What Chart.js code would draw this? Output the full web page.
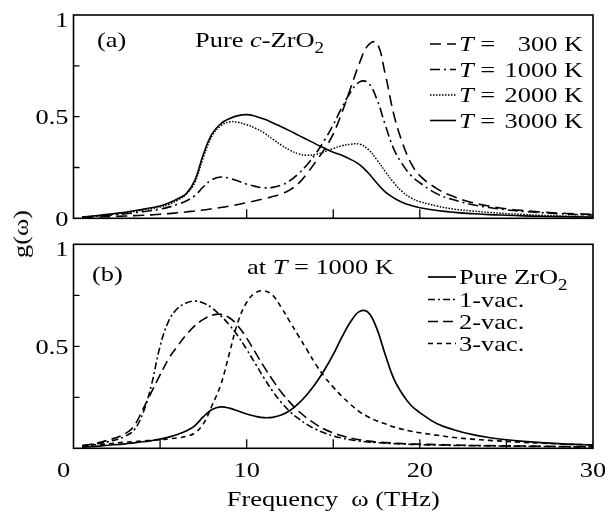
<!DOCTYPE html>
<html>

<head>
    <meta charset="utf-8">
    <title>Phonon density of states, c-ZrO2</title>
    <script src="https://cdn.jsdelivr.net/npm/chart.js"></script>
    <style>
        body { margin: 0; background: #fff; }
        #wrap { position: relative; width: 605px; height: 517px; overflow: hidden; }
        #panelA { position: absolute; left: 0; top: 0; width: 605px; height: 232px; }
        #panelB { position: absolute; left: 0; top: 232px; width: 605px; height: 285px; }
        #yTitle {
            position: absolute; left: 21px; top: 234px;
            font: 22px "Liberation Serif", serif; line-height: 1; white-space: nowrap;
            transform: translate(-50%, -50%) rotate(-90deg) scale(1.2, 1);
        }
    </style>
</head>

<body>
    <div id="wrap">
        <!-- (a) temperature dependence, (b) vacancies at 1000 K -->
        <div id="panelA"><canvas id="chartA"></canvas></div>
        <div id="panelB"><canvas id="chartB"></canvas></div>
        <div id="yTitle">g(ω)</div>
    </div>

    <script>
        // frequency grid (THz)
        const freqTHz = [0.5, 1, 2, 3,
            3.5, 4, 4.5, 5, 5.5, 6, 6.5, 7, 7.5, 8, 8.5, 9, 9.5, 10, 10.5, 11, 11.5,
            12, 12.5, 13, 13.5, 14, 14.5, 15, 15.5, 16, 16.5, 17, 17.5, 18, 18.5, 19, 19.5, 20,
            21, 22, 23, 24, 25, 26, 27, 28, 29, 30];

        const tempsK = [300, 1000, 2000, 3000];

        // pure c-ZrO2, g(w) at each temperature
        const g300 = [0.004, 0.005, 0.008, 0.011,
            0.013, 0.015, 0.017, 0.020, 0.023, 0.027, 0.031, 0.036, 0.041, 0.047, 0.053, 0.060, 0.068, 0.077, 0.086, 0.096, 0.107,
            0.120, 0.140, 0.172, 0.222, 0.280, 0.340, 0.415, 0.520, 0.640, 0.760, 0.850, 0.865, 0.710, 0.510, 0.370, 0.270, 0.210,
            0.145, 0.105, 0.078, 0.060, 0.047, 0.038, 0.031, 0.026, 0.022, 0.019];
        const g1000 = [0.006, 0.008, 0.015, 0.022,
            0.027, 0.032, 0.038, 0.045, 0.055, 0.068, 0.085, 0.110, 0.155, 0.190, 0.203, 0.197, 0.183, 0.168, 0.157, 0.150, 0.152,
            0.163, 0.185, 0.220, 0.265, 0.320, 0.385, 0.460, 0.545, 0.620, 0.670, 0.668, 0.590, 0.460, 0.340, 0.265, 0.210, 0.175,
            0.120, 0.090, 0.068, 0.053, 0.042, 0.034, 0.028, 0.023, 0.019, 0.016];
        const g2000 = [0.007, 0.010, 0.018, 0.027,
            0.033, 0.040, 0.047, 0.055, 0.068, 0.088, 0.118, 0.175, 0.300, 0.405, 0.455, 0.474, 0.472, 0.460, 0.443, 0.420, 0.390,
            0.360, 0.335, 0.317, 0.310, 0.315, 0.328, 0.343, 0.357, 0.364, 0.365, 0.340, 0.290, 0.230, 0.175, 0.130, 0.100, 0.082,
            0.060, 0.045, 0.036, 0.029, 0.023, 0.019, 0.015, 0.012, 0.010, 0.008];
        const g3000 = [0.007, 0.010, 0.020, 0.030,
            0.037, 0.044, 0.052, 0.060, 0.075, 0.095, 0.120, 0.185, 0.315, 0.415, 0.465, 0.490, 0.505, 0.510, 0.502, 0.488, 0.470,
            0.450, 0.430, 0.408, 0.387, 0.365, 0.345, 0.325, 0.310, 0.290, 0.265, 0.225, 0.175, 0.130, 0.100, 0.078, 0.063, 0.052,
            0.038, 0.029, 0.023, 0.018, 0.015, 0.012, 0.010, 0.008, 0.007, 0.006];

        // with vacancies, T = 1000 K
        const vac1 = [0.012, 0.018, 0.032, 0.060,
            0.090, 0.170, 0.310, 0.500, 0.625, 0.685, 0.712, 0.722, 0.712, 0.688, 0.650, 0.605, 0.550, 0.485, 0.415, 0.345, 0.280,
            0.225, 0.180, 0.145, 0.116, 0.093, 0.075, 0.061, 0.050, 0.042, 0.036, 0.031, 0.028, 0.025, 0.023, 0.021, 0.019, 0.018,
            0.016, 0.014, 0.013, 0.012, 0.011, 0.010, 0.009, 0.008, 0.007, 0.007];
        const vac2 = [0.013, 0.020, 0.040, 0.072,
            0.110, 0.190, 0.275, 0.360, 0.440, 0.500, 0.555, 0.600, 0.632, 0.652, 0.657, 0.640, 0.600, 0.540, 0.470, 0.400, 0.335,
            0.275, 0.225, 0.182, 0.147, 0.117, 0.093, 0.075, 0.061, 0.050, 0.042, 0.036, 0.031, 0.028, 0.025, 0.023, 0.021, 0.020,
            0.018, 0.016, 0.014, 0.013, 0.012, 0.011, 0.010, 0.009, 0.008, 0.008];
        const vac3 = [0.010, 0.015, 0.022, 0.030,
            0.033, 0.036, 0.039, 0.042, 0.046, 0.051, 0.058, 0.075, 0.120, 0.210, 0.310, 0.465, 0.620, 0.715, 0.762, 0.772, 0.750,
            0.690, 0.620, 0.550, 0.480, 0.410, 0.350, 0.300, 0.255, 0.215, 0.180, 0.155, 0.135, 0.120, 0.105, 0.093, 0.084, 0.076,
            0.064, 0.053, 0.045, 0.039, 0.034, 0.029, 0.025, 0.022, 0.019, 0.017];

        const FONT = '"Liberation Serif", "Times New Roman", serif';
        const FS = 22;
        const SX = 1.2;   // lettering in the figure is drawn wide

        function segFont(s) {
            const size = s[1] === 'sub' ? FS * 0.72 : FS;
            return (s[1] === 'i' ? 'italic ' : '') + size + 'px ' + FONT;
        }

        function textWidth(ctx, segs) {
            let w = 0;
            segs.forEach(s => { ctx.font = segFont(s); w += ctx.measureText(s[0]).width; });
            return w * SX;
        }

        // segs: [[text, style]], style is '', 'i' (italic) or 'sub'
        function drawText(ctx, segs, x, y, align) {
            const w = textWidth(ctx, segs);
            const start = align === 'right' ? x - w : align === 'center' ? x - w / 2 : x;
            ctx.save();
            ctx.translate(start, y);
            ctx.scale(SX, 1);
            let cx = 0;
            segs.forEach(s => {
                ctx.font = segFont(s);
                ctx.fillText(s[0], cx, s[1] === 'sub' ? FS * 0.28 : 0);
                cx += ctx.measureText(s[0]).width;
            });
            ctx.restore();
        }

        function points(ys) {
            return freqTHz.map((f, i) => ({ x: f, y: ys[i] }));
        }

        function line(label, ys, dash, width) {
            return {
                label: label,
                data: points(ys),
                borderColor: '#000',
                borderWidth: width || 1.6,
                borderDash: dash,
                pointRadius: 0,
                fill: false,
                tension: 0.4
            };
        }

        // box, inward ticks, tick labels, notes and legend
        const framePlugin = {
            id: 'frame',
            afterDraw(chart, args, o) {
                const { ctx, chartArea: a, scales: { x, y } } = chart;
                ctx.save();
                ctx.strokeStyle = '#000';
                ctx.fillStyle = '#000';
                ctx.setLineDash([]);
                ctx.lineWidth = 1.6;
                ctx.strokeRect(a.left, a.top, a.right - a.left, a.bottom - a.top);

                ctx.lineWidth = 1.3;
                ctx.beginPath();
                o.yTicks.forEach(v => {
                    const py = y.getPixelForValue(v);
                    ctx.moveTo(a.left, py);
                    ctx.lineTo(a.left + 6, py);
                });
                o.xTicks.forEach(v => {
                    const px = x.getPixelForValue(v);
                    ctx.moveTo(px, a.bottom);
                    ctx.lineTo(px, a.bottom - 9);
                });
                ctx.stroke();

                ctx.textBaseline = 'alphabetic';
                o.yLabels.forEach(v => {
                    const py = y.getPixelForValue(v) + 7.5 + (v === 1 ? 4.5 : 0);
                    drawText(ctx, [[String(v), '']], a.left - 5, py, 'right');
                });
                if (o.xLabels) {
                    o.xLabels.forEach(v => {
                        const px = x.getPixelForValue(v) - (v === 0 ? 10 : 0);
                        drawText(ctx, [[String(v), '']], px, a.bottom + 29, 'center');
                    });
                }
                if (o.xTitle) {
                    drawText(ctx, o.xTitle, (a.left + a.right) / 2, a.bottom + 58, 'center');
                }

                o.notes.forEach(n => drawText(ctx, n.segs, n.x, n.y, 'left'));

                const lg = o.legend;
                lg.items.forEach((it, k) => {
                    const ds = chart.data.datasets[it.ds];
                    const yy = lg.rows[k];
                    ctx.save();
                    ctx.lineWidth = ds.borderWidth;
                    ctx.setLineDash(ds.borderDash || []);
                    ctx.beginPath();
                    ctx.moveTo(lg.x0, yy - 7);
                    ctx.lineTo(lg.x1, yy - 7);
                    ctx.stroke();
                    ctx.restore();
                    drawText(ctx, it.segs, lg.textX, yy, 'left');
                    if (it.right) drawText(ctx, it.right, lg.rightX, yy, 'right');
                });
                ctx.restore();
            }
        };

        const dashA = [[11, 6], [10, 4, 2, 4], [1.5, 1.5], []];
        const seriesA = [g300, g1000, g2000, g3000];

        new Chart(document.getElementById('chartA'), {
            type: 'line',
            data: {
                datasets: tempsK.map((t, i) => line('T = ' + t + ' K', seriesA[i], dashA[i], i === 2 ? 1.5 : 1.6))
            },
            options: {
                responsive: true,
                maintainAspectRatio: false,
                animation: false,
                layout: { padding: { left: 73.5, right: 12, top: 15, bottom: 13.7 } },
                scales: {
                    x: { type: 'linear', min: 0, max: 30, display: false },
                    y: { min: 0, max: 1, display: false }
                },
                plugins: {
                    legend: { display: false },
                    tooltip: { enabled: false },
                    frame: {
                        yTicks: [0.25, 0.5, 0.75],
                        yLabels: [0, 0.5, 1],
                        xTicks: [10, 15, 20],
                        notes: [
                            { x: 97, y: 47, segs: [['(a)', '']] },
                            { x: 195, y: 47, segs: [['Pure ', ''], ['c', 'i'], ['-ZrO', ''], ['2', 'sub']] }
                        ],
                        legend: {
                            x0: 430, x1: 456, textX: 459, rightX: 583,
                            rows: [51, 76.5, 102, 127.5],
                            items: tempsK.map((t, i) => ({
                                ds: i,
                                segs: [['T', 'i'], [' =', '']],
                                right: [[t + ' K', '']]
                            }))
                        }
                    }
                }
            },
            plugins: [framePlugin]
        });

        new Chart(document.getElementById('chartB'), {
            type: 'line',
            data: {
                datasets: [
                    line('Pure ZrO2', g1000, [], 1.7),
                    line('1-vac.', vac1, [7, 3, 2, 3]),
                    line('2-vac.', vac2, [10, 5]),
                    line('3-vac.', vac3, [5, 4])
                ]
            },
            options: {
                responsive: true,
                maintainAspectRatio: false,
                animation: false,
                layout: { padding: { left: 73.5, right: 12, top: 12.3, bottom: 68.7 } },
                scales: {
                    x: { type: 'linear', min: 0, max: 30, display: false },
                    y: { min: 0, max: 1, display: false }
                },
                plugins: {
                    legend: { display: false },
                    tooltip: { enabled: false },
                    frame: {
                        yTicks: [0.25, 0.5, 0.75],
                        yLabels: [0.5, 1],
                        xTicks: [5, 10, 15, 20, 25],
                        xLabels: [0, 10, 20, 30],
                        xTitle: [['Frequency  ', ''], ['ω', ''], [' (THz)', '']],
                        notes: [
                            { x: 92, y: 49, segs: [['(b)', '']] },
                            { x: 247, y: 42, segs: [['at ', ''], ['T', 'i'], [' = 1000 K', '']] }
                        ],
                        legend: {
                            x0: 428, x1: 456, textX: 459,
                            rows: [52, 74.5, 96.5, 118.5],
                            items: [
                                { ds: 0, segs: [['Pure ZrO', ''], ['2', 'sub']] },
                                { ds: 1, segs: [['1-vac.', '']] },
                                { ds: 2, segs: [['2-vac.', '']] },
                                { ds: 3, segs: [['3-vac.', '']] }
                            ]
                        }
                    }
                }
            },
            plugins: [framePlugin]
        });
    </script>
</body>

</html>
